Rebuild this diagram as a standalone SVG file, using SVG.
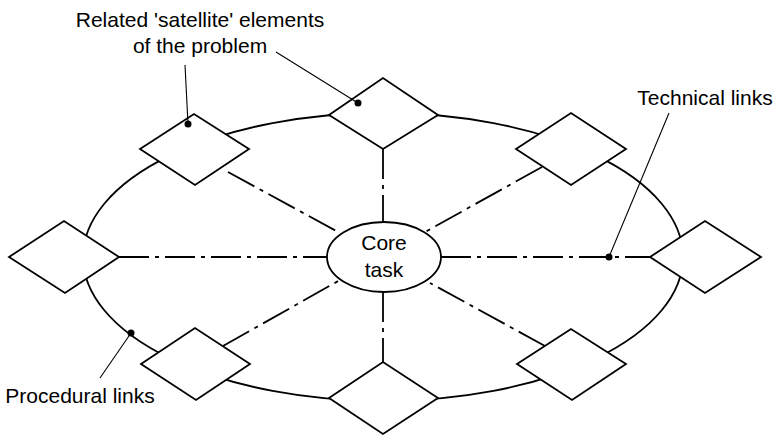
<svg xmlns="http://www.w3.org/2000/svg" width="778" height="437" viewBox="0 0 778 437">
<style>
.dia{fill:#fff;stroke:#000;stroke-width:1.8}
.ring{fill:none;stroke:#000;stroke-width:1.8}
.dd{stroke:#000;stroke-width:1.8;stroke-dasharray:30 6 4 6;fill:none}
.lead{stroke:#000;stroke-width:1.1;fill:none}
text{font-family:"Liberation Sans",Arial,sans-serif;font-size:21px;fill:#000}
</style>
<rect width="778" height="437" fill="#fff"/>
<g id="ring"><ellipse class="ring" cx="383" cy="257" rx="300" ry="144"/></g>
<g id="connectors">
<line class="dd" x1="119" y1="257" x2="328" y2="257"/>
<line class="dd" x1="441" y1="257" x2="650" y2="257"/>
<line class="dd" x1="383" y1="149" x2="383" y2="222"/>
<line class="dd" x1="383" y1="292" x2="383" y2="362"/>
<line class="dd" x1="228" y1="172" x2="340" y2="233"/>
<line class="dd" x1="542" y1="167" x2="425" y2="232"/>
<line class="dd" x1="223" y1="346" x2="340" y2="280"/>
<line class="dd" x1="545" y1="346" x2="430" y2="283"/>
</g>
<g id="n-tl"><polygon class="dia" points="140,149 194,114 249,149 195,185"/></g>
<g id="n-t"><polygon class="dia" points="329,115 383,78 438,115 383,149"/></g>
<g id="n-tr"><polygon class="dia" points="516,149 571,113 626,149 571,185"/></g>
<g id="n-l"><polygon class="dia" points="9,257 64,221 119,257 65,293"/></g>
<g id="n-r"><polygon class="dia" points="650,257 705,221 761,257 705,293"/></g>
<g id="n-bl"><polygon class="dia" points="141,364 195,328 250,364 196,400"/></g>
<g id="n-b"><polygon class="dia" points="329,398 383,362 438,398 383,434"/></g>
<g id="n-br"><polygon class="dia" points="517,364 571,329 626,364 572,400"/></g>
<g id="core">
<ellipse cx="384" cy="257" rx="57" ry="35" fill="#fff" stroke="#000" stroke-width="1.8"/>
<text x="384" y="250" text-anchor="middle" font-size="22">Core</text>
<text x="384" y="277" text-anchor="middle" font-size="22">task</text>
</g>
<g id="labels">
<text x="200" y="27" text-anchor="middle">Related 'satellite' elements</text>
<text x="200" y="53" text-anchor="middle">of the problem</text>
<text x="705" y="105" text-anchor="middle">Technical links</text>
<text x="80" y="403" text-anchor="middle">Procedural links</text>
<line class="lead" x1="185" y1="65" x2="188" y2="124"/>
<circle cx="188" cy="124" r="3.5"/>
<line class="lead" x1="276" y1="52" x2="358" y2="103"/>
<circle cx="358" cy="103" r="3.5"/>
<line class="lead" x1="669" y1="113" x2="609" y2="257"/>
<circle cx="609" cy="257" r="3.5"/>
<line class="lead" x1="100" y1="378" x2="131" y2="333"/>
<circle cx="131" cy="333" r="3.5"/>
</g>
</svg>
